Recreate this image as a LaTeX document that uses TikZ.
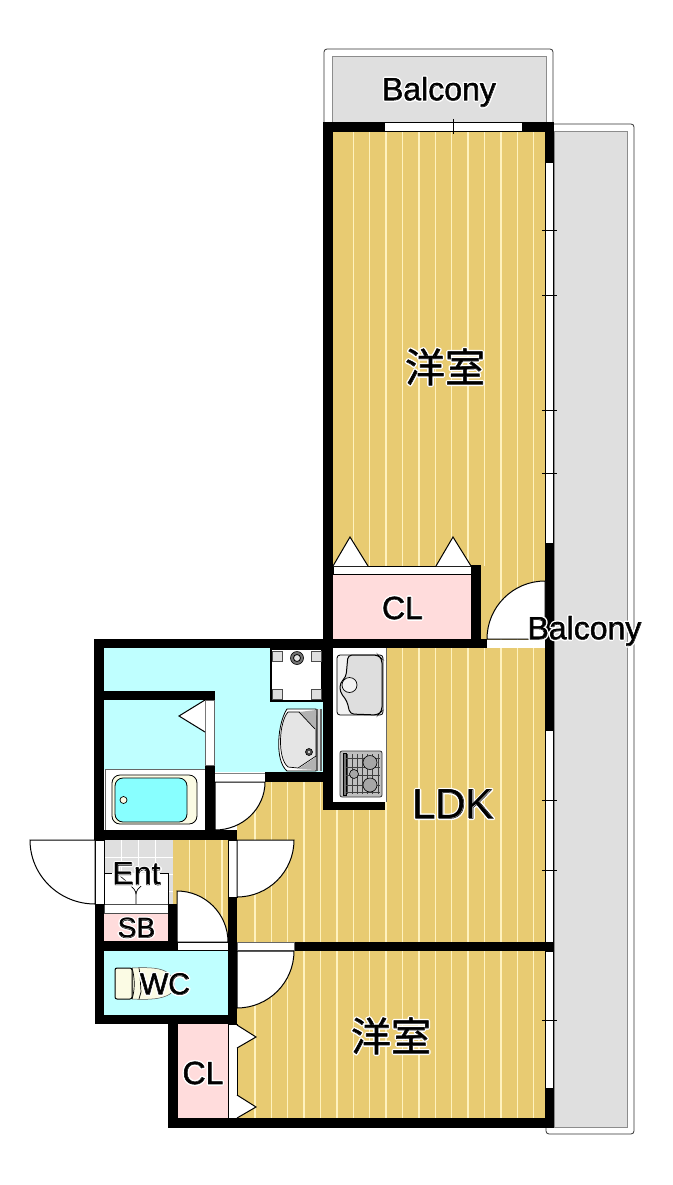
\documentclass[tikz,border=0pt]{standalone}
\usepackage{fontspec}
\setmainfont{Liberation Sans}
\newfontfamily\jpfont{Noto Sans CJK JP}
\definecolor{floorc}{HTML}{E8CB72}
\definecolor{plank}{HTML}{FFF2BE}
\definecolor{wetc}{HTML}{BFFFFF}
\definecolor{pinkc}{HTML}{FFDCDC}
\definecolor{balc}{HTML}{DFDFDF}
\definecolor{tubc}{HTML}{88FFFF}
\definecolor{creamc}{HTML}{FBFBE4}
\newcommand{\halo}[1]{\leavevmode\rlap{\special{pdf:code q 1 Tr 3.5 w 1 J 1 j 1 1 1 RG}#1\special{pdf:code Q}}\rlap{\special{pdf:code q 1 Tr 0.5 w 0 0 0 RG}#1\special{pdf:code Q}}#1}
% swing door: hinge (cx,cy), leaf offsets dx along the wall, dy across it
\newcommand{\swingdoor}[4]{\draw[swing] (#1,#2) -- ({#1+#3},#2) .. controls ({#1+#3},{#2+0.5523*#4}) and ({#1+0.5523*#3},{#2+#4}) .. (#1,{#2+#4}) -- cycle;}
\tikzset{
  wall/.style={fill=black,draw=none},
  fixture/.style={draw=black,fill=white,line width=0.8pt},
  swing/.style={draw=black,fill=white,line width=1pt},
  gapstrip/.style={draw=black,fill=white,line width=0.7pt},
  tick/.style={draw=black,line width=0.8pt},
  lab/.style={inner sep=0pt,text=black},
  balcout/.style={draw=black!80,fill=white,line width=0.8pt,rounded corners=3pt},
  balcin/.style={draw=black!45,fill=balc,line width=1pt},
  corner/.style={draw=black!70,fill=balc,line width=0.5pt},
  pl/.style={draw=plank,line width=1.4pt},
  tile/.style={draw=white,line width=0.8pt}
}
\begin{document}
\begin{tikzpicture}[x=1pt,y=-1pt]
\useasboundingbox (0,0) rectangle (672,1185);
\fill[white] (0,0) rectangle (672,1185);
% balconies
\draw[balcout] (324,125) -- (324,49) -- (553,49) -- (553,125);
\fill[white] (325,122) rectangle (552,125);
\draw[balcin] (332,123) -- (332,57) -- (546,57) -- (546,123) -- cycle;
\draw[balcout] (554,124) -- (634,124) -- (634,1134) -- (546,1134) -- (546,1125);
\draw[balcin] (554,132) -- (627,132) -- (627,1127) -- (554,1127) -- cycle;
% floors
\fill[floorc] (333,132) rectangle (545,640);
\fill[floorc] (386,648) rectangle (545,942);
\fill[floorc] (237,782) rectangle (386,942);
\fill[floorc] (173,840) rectangle (228,942);
\fill[floorc] (237,951) rectangle (545,1118);
% planks
\foreach \k in {0,...,11} {\draw[pl] ({353.3+16.4*\k},132) -- ({353.3+16.4*\k},566);}
\foreach \k in {9,...,11} {\draw[pl] ({353.3+16.4*\k},566) -- ({353.3+16.4*\k},640);}
\foreach \k in {3,...,11} {\draw[pl] ({353.3+16.4*\k},648) -- ({353.3+16.4*\k},942);}
\foreach \k in {-6,...,2} {\draw[pl] ({353.3+16.4*\k},782) -- ({353.3+16.4*\k},942);}
\foreach \k in {-10,...,-8} {\draw[pl] ({353.3+16.4*\k},840) -- ({353.3+16.4*\k},942);}
\foreach \k in {-6,...,11} {\draw[pl] ({353.3+16.4*\k},951) -- ({353.3+16.4*\k},1118);}
% wet rooms
\fill[wetc] (104,648) rectangle (323,691);
\fill[wetc] (215,691) rectangle (323,772);
\fill[wetc] (104,700) rectangle (205,770);
\fill[wetc] (104,951) rectangle (228,1015);
% closets
\fill[pinkc] (333,574) rectangle (471,639);
\fill[pinkc] (178,1024) rectangle (228,1118);
\fill[pinkc] (104,914) rectangle (168,941);
% entrance tile
\fill[balc] (104,840) rectangle (173,904);
\foreach \x in {121,138,155} {\draw[tile] (\x,840) -- (\x,904);}
\foreach \y in {857,874,891} {\draw[tile] (104,\y) -- (173,\y);}
% shoe cupboard
\fill[white] (104,873) rectangle (168,904);
\draw[black,line width=0.7pt] (104,873) -- (112,873) (160,873) -- (168,873) -- (168,904);
\draw[black,line width=0.7pt] (136,904) -- (136,895) (136,895) .. controls (136,890) and (133,888) .. (131,886) (136,895) .. controls (136,890) and (139,888) .. (141,886);
\draw[black,line width=0.6pt] (120,876) -- (126,881);
\draw[gapstrip,draw=black!70] (104,904) rectangle (168,913);
% counter
\fill[white] (333,648) rectangle (386,802);
\draw[black!60,line width=0.5pt] (386,648) -- (386,802);
% walls
\fill[wall] (94,639) rectangle (333,648);
\fill[wall] (94,639) rectangle (104,840);
\fill[wall] (94,691) rectangle (215,700);
\fill[wall] (94,830) rectangle (237,840);
\fill[wall] (205,765) rectangle (215,830);
\fill[wall] (265,772) rectangle (333,782);
\fill[wall] (323,122) rectangle (333,810);
\fill[wall] (323,802) rectangle (385,810);
\fill[wall] (323,122) rectangle (554,132);
\fill[wall] (545,122) rectangle (554,1128);
\fill[wall] (323,639) rectangle (487,648);
\fill[wall] (471,565) rectangle (481,648);
\fill[wall] (95,904) rectangle (104,1024);
\fill[wall] (168,904) rectangle (177,951);
\fill[wall] (95,941) rectangle (177,951);
\fill[wall] (228,840) rectangle (237,1118);
\fill[wall] (237,942) rectangle (554,951);
\fill[wall] (95,1015) rectangle (237,1024);
\fill[wall] (168,1024) rectangle (178,1128);
\fill[wall] (168,1118) rectangle (554,1128);
% windows
\draw[gapstrip] (384,122.5) rectangle (522,131.5);
\draw[tick] (453,119) -- (453,134);
\foreach \a/\b in {162/543,730/942,951/1088} {\draw[gapstrip] (545.5,\a) rectangle (553.5,\b);}
\foreach \y in {230,295,410,473,800,870,1020} {\draw[tick] (542,\y) -- (557,\y);}
% sliding strip of bath door
\draw[gapstrip,draw=black!60] (205.5,700) rectangle (214.5,765);
% doors
\fill[white] (215,773) rectangle (265,782);
\draw[black!50,line width=0.5pt] (215,773) -- (265,773);
\swingdoor{215}{782}{50}{48}
\fill[white] (487,639.5) rectangle (545,648);
\swingdoor{545}{639}{-58}{-58}
\draw[gapstrip] (95,840) rectangle (104,904);
\swingdoor{95}{840}{-65}{64}
\draw[gapstrip] (228,840) rectangle (237,897);
\swingdoor{237}{840}{57}{57}
\draw[gapstrip] (177.5,942) rectangle (228,950.5);
\swingdoor{177}{942}{51}{-51}
\draw[gapstrip,draw=black!60] (237,942) rectangle (294,950.5);
\swingdoor{237}{951}{57}{57}
% upper closet doors
\draw[gapstrip] (333,566) rectangle (471,574);
\draw[swing] (333,566) -- (350,537) -- (368,566);
\draw[swing] (436,566) -- (453,537) -- (471,566);
% lower closet doors
\draw[gapstrip] (228.5,1024) rectangle (237,1118);
\draw[swing] (237,1025) -- (256,1037) -- (237,1048);
\draw[swing] (237,1095) -- (256,1107) -- (237,1118);
% bath door triangle
\draw[swing] (205,700) -- (179,716) -- (205,732);
% unit bath
\fill[white] (105,769) rectangle (205,830);
\draw[black!60,line width=0.5pt] (105,769) -- (205,769) (105,769) -- (105,830);
\draw[black,fill=creamc,line width=0.8pt,rounded corners=8pt] (112,775) rectangle (197,824);
\draw[black,fill=tubc,line width=0.8pt,rounded corners=8pt] (115,778) rectangle (187,822);
\draw[black,fill=creamc,line width=0.7pt] (123.5,800) circle[radius=3.5];
% washing machine pan
\draw[fixture,line width=1.3pt] (271,649) rectangle (322,701);
\foreach \x/\y in {272/651,311/651,272/689,311/689} {\draw[corner] (\x,\y) rectangle ++(10,10);}
\draw[black,fill=black!55,line width=0.6pt] (297,658) circle[radius=6.5];
\draw[black,fill=black!10,line width=0.8pt] (297,658) circle[radius=3.5];
% wash basin
\fill[black!60] (316,709) rectangle (322,771);
\fill[black!15] (318,709) rectangle (320,771);
\draw[black,fill=white,line width=0.8pt] (316,709) -- (287,709) .. controls (278,722) and (274,760) .. (287,771) -- (316,771) -- cycle;
\draw[black,fill=black!10,line width=0.7pt] (316,716) -- (299,712) -- (288,712) .. controls (279,722) and (277,758) .. (288,767) -- (298,768) -- (316,756) -- cycle;
\fill[black!30] (299,712) -- (316,710) -- (316,729) -- cycle;
\draw[black,line width=0.7pt] (299,712) -- (315,729);
\fill[black!30] (298,769) -- (316,770) -- (316,757) -- cycle;
\draw[black,fill=black!70,line width=0.6pt] (309,752) circle[radius=3.5];
\fill[white] (309,752) circle[radius=1.2];
% sink
\draw[black,fill=black!5,line width=0.8pt,rounded corners=3pt] (337,655) rectangle (383,715);
\draw[black,fill=black!13,line width=1pt,rounded corners=4pt] (348,655) -- (378,655) -- (382,659) -- (382,711) -- (378,715) -- (350,714) -- (347,701) -- (340,692) -- (340,683) -- (346,677) -- cycle;
\draw[black,fill=black!5,line width=0.7pt] (349.5,685) circle[radius=7.5];
% stove
\draw[black!80,fill=black!25,line width=0.8pt,rounded corners=2pt] (340,751) rectangle (382,797);
\fill[black!55] (343,753) rectangle (346,795);
\draw[black,line width=0.5pt] (343,753) rectangle (346,795);
\foreach \x in {347,352,357,362,367,372,378} {\draw[black!75,line width=0.6pt] (\x,754) -- (\x,794);}
\foreach \y in {758,767,775,785,792} {\draw[black!75,line width=0.6pt] (346,\y) -- (380,\y);}
\draw[black,fill=black!35,line width=0.6pt] (370,762.5) circle[radius=7];
\draw[black,fill=black!35,line width=0.6pt] (370,785) circle[radius=7];
\draw[black,fill=black!35,line width=0.6pt] (354,774) circle[radius=4.5];
% toilet
\draw[black!70,fill=creamc,line width=0.5pt] (132,968) .. controls (150,967) and (162,968) .. (168,973) .. controls (176,980) and (176,990) .. (170,994) .. controls (162,999) and (150,1000) .. (132,999) -- cycle;
\draw[black,fill=creamc,line width=1pt,rounded corners=2pt] (115,968) rectangle (132,999);
\draw[black,line width=0.7pt] (132,968) .. controls (135,978) and (135,990) .. (132,999);
\draw[black,line width=0.7pt] (139,968) -- (140,975) -- (141,992) -- (139,999);
% labels
\node[lab,font=\fontsize{32}{32}\selectfont] (balcA) at (439,92) {\halo{Balcony}};
\node[lab,font=\fontsize{32}{32}\selectfont] (balcB) at (584.5,631) {\halo{Balcony}};
\node[lab,font=\fontsize{40}{40}\selectfont\jpfont] (roomA) at (445,367) {\halo{洋室}};
\node[lab,font=\fontsize{40}{40}\selectfont\jpfont] (roomB) at (391,1036) {\halo{洋室}};
\node[lab,font=\fontsize{32}{32}\selectfont] (clA) at (402.5,608) {\halo{CL}};
\node[lab,font=\fontsize{42}{42}\selectfont] (ldk) at (453,804) {\halo{LDK}};
\node[lab,font=\fontsize{32}{32}\selectfont] (ent) at (136.5,874) {\halo{Ent}};
\node[lab,font=\fontsize{28}{28}\selectfont] (sb) at (136.5,928) {\halo{SB}};
\node[lab,font=\fontsize{30}{30}\selectfont] (wc) at (165,984) {\halo{WC}};
\node[lab,font=\fontsize{32}{32}\selectfont] (clB) at (203,1073) {\halo{CL}};
\end{tikzpicture}
\end{document}
